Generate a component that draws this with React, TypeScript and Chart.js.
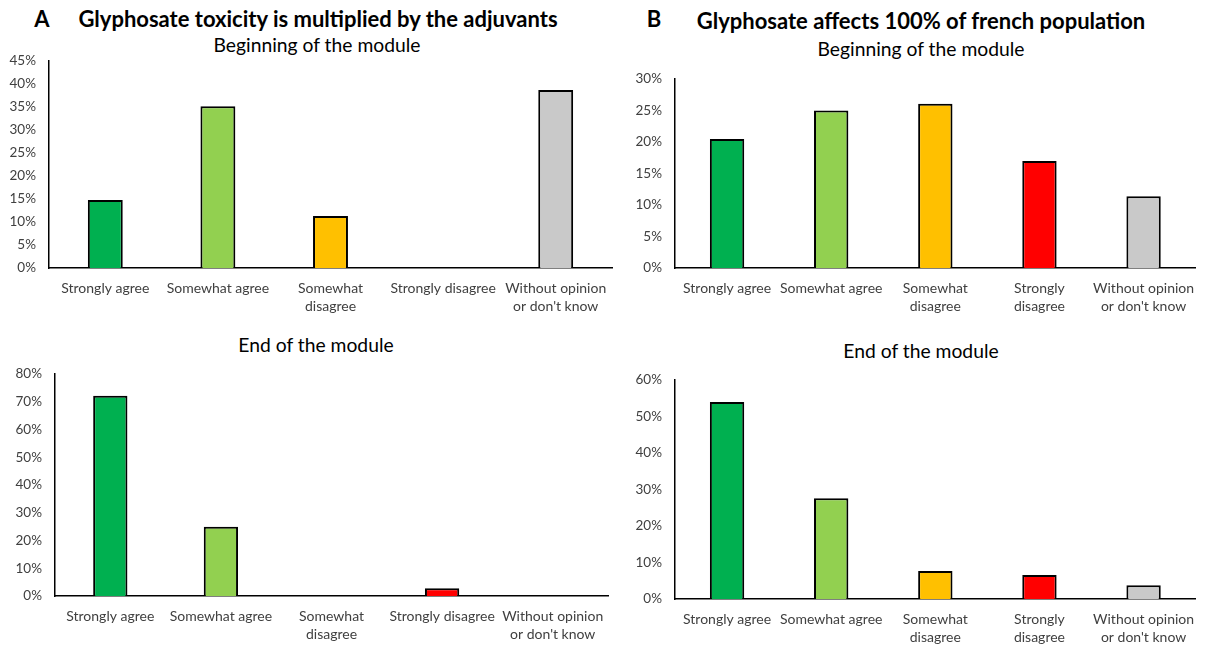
import React, { useEffect, useRef } from "react";
import { Chart, registerables } from "chart.js";

Chart.register(...registerables);

const FONT = "Lato";

const labelsA = [
  "Strongly agree",
  "Somewhat agree",
  ["Somewhat", "disagree"],
  "Strongly disagree",
  ["Without opinion", "or don't know"],
];
const labelsB = [
  "Strongly agree",
  "Somewhat agree",
  ["Somewhat", "disagree"],
  ["Strongly", "disagree"],
  ["Without opinion", "or don't know"],
];

const aBeginning = [14.8, 35.2, 11.3, 0, 38.7];
const aEnd = [72.2, 25.0, 0, 2.8, 0];
const bBeginning = [20.5, 25.0, 26.1, 17.0, 11.4];
const bEnd = [54.0, 27.6, 7.7, 6.6, 3.8];

const barColors = ["#00B050", "#92D050", "#FFC000", "#FF0000", "#C9C9C9"];

type BoxProps = {
  left: number;
  top: number;
  width: number;
  height: number;
  labels: any[];
  values: number[];
  max: number;
  step: number;
  yWidth: number;
  xHeight: number;
  padTop: number;
  padRight: number;
  barPct: number;
};

function ChartBox(p: BoxProps) {
  const ref = useRef<HTMLCanvasElement | null>(null);
  useEffect(() => {
    if (!ref.current) return;
    const chart = new Chart(ref.current, {
      type: "bar",
      data: {
        labels: p.labels,
        datasets: [
          {
            data: p.values,
            backgroundColor: barColors,
            borderColor: "#000000",
            borderWidth: 2,
            categoryPercentage: 1,
            barPercentage: p.barPct,
          },
        ],
      },
      options: {
        animation: false,
        responsive: false,
        maintainAspectRatio: false,
        layout: { padding: { top: p.padTop, right: p.padRight, left: 0, bottom: 0 } },
        plugins: { legend: { display: false }, tooltip: { enabled: false }, title: { display: false } },
        scales: {
          x: {
            grid: { display: false, drawTicks: false },
            border: { display: true, color: "#000000", width: 1.5 },
            ticks: {
              color: "#404040",
              font: { family: FONT, size: 14, lineHeight: 1.3 },
              maxRotation: 0,
              minRotation: 0,
              autoSkip: false,
              padding: 11,
            },
            afterFit: (s: any) => {
              s.height = p.xHeight;
            },
          },
          y: {
            min: 0,
            max: p.max,
            grid: { display: false, drawTicks: false },
            border: { display: true, color: "#000000", width: 1.5 },
            ticks: {
              stepSize: p.step,
              color: "#404040",
              font: { family: FONT, size: 13.5 },
              padding: 13,
              callback: (v: any) => v + "%",
            },
            afterFit: (s: any) => {
              s.width = p.yWidth;
            },
          },
        },
      },
    });
    return () => chart.destroy();
  }, []);
  return (
    <canvas
      ref={ref}
      width={p.width}
      height={p.height}
      style={{ position: "absolute", left: p.left, top: p.top, width: p.width, height: p.height }}
    />
  );
}

function Text(props: { cx: number; cy: number; size: number; bold?: boolean; children: any }) {
  const lh = Math.round(props.size * 1.3);
  return (
    <div
      style={{
        position: "absolute",
        left: props.cx - 300,
        top: props.cy - lh / 2,
        width: 600,
        textAlign: "center",
        fontFamily: FONT,
        fontSize: props.size,
        fontWeight: props.bold ? 700 : 400,
        lineHeight: lh + "px",
        color: "#000",
        whiteSpace: "nowrap",
      }}
    >
      {props.children}
    </div>
  );
}

export default function App() {
  return (
    <div style={{ position: "fixed", left: 0, top: 0, width: 1206, height: 647, background: "#fff", overflow: "hidden" }}>
      <Text cx={42} cy={18} size={22} bold>A</Text>
      <Text cx={318} cy={18} size={22} bold>Glyphosate toxicity is multiplied by the adjuvants</Text>
      <Text cx={317} cy={44} size={19.3}>Beginning of the module</Text>
      <Text cx={316} cy={344} size={19.3}>End of the module</Text>

      <Text cx={654} cy={18} size={22} bold>B</Text>
      <Text cx={921} cy={20} size={22} bold>Glyphosate affects 100% of french population</Text>
      <Text cx={921} cy={48} size={19.3}>Beginning of the module</Text>
      <Text cx={921} cy={350} size={19.3}>End of the module</Text>

      <ChartBox left={0} top={40} width={620} height={280} labels={labelsA} values={aBeginning}
        max={45} step={5} yWidth={49} xHeight={52} padTop={21} padRight={8} barPct={0.31} />
      <ChartBox left={0} top={353} width={620} height={294} labels={labelsA} values={aEnd}
        max={80} step={10} yWidth={55} xHeight={51} padTop={21} padRight={12} barPct={0.31} />
      <ChartBox left={610} top={58} width={596} height={262} labels={labelsB} values={bBeginning}
        max={30} step={5} yWidth={65} xHeight={52} padTop={21} padRight={9} barPct={0.33} />
      <ChartBox left={610} top={359} width={596} height={288} labels={labelsB} values={bEnd}
        max={60} step={10} yWidth={65} xHeight={48} padTop={21} padRight={9} barPct={0.33} />
    </div>
  );
}
